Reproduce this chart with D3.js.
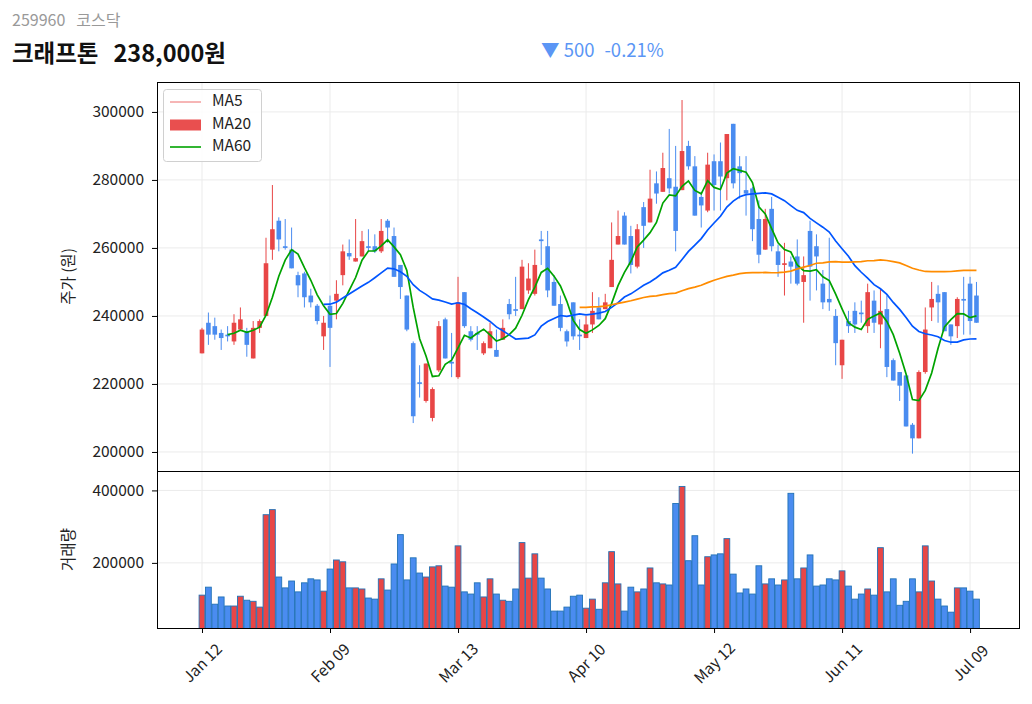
<!DOCTYPE html>
<html>
<head>
<meta charset="utf-8">
<script src="https://cdn.jsdelivr.net/npm/d3@7"></script>
<style>
  body { margin: 0; background: #fff; }
  text { font-family: "Noto Sans CJK KR", "Noto Sans", sans-serif; }
</style>
</head>
<body>
<svg id="chart" width="1032" height="704"></svg>
<script>
// daily OHLC (원), index 0 = Jan 12
const opens  = [229000,238000,237000,235000,234500,232500,236000,235500,227500,236500,
                240000,259500,268000,260500,259500,252000,252500,246000,243000,234000,
                243000,244500,252000,258500,256000,257500,260500,260500,259000,268000,
                263500,255000,246000,232000,220500,215000,210000,224000,239000,226500,
                222000,247000,235500,235000,229000,230500,230000,233000,243500,242000,
                242000,247500,246500,262500,260500,250000,243500,235500,244000,234500,
                233500,237500,242500,242000,248500,261000,269500,263500,254500,272000,
                267500,279000,276500,280500,278000,277000,290000,284000,275000,271000,
                285500,285500,280500,296500,284000,277000,277500,268500,259500,271500,
                259000,255000,256000,257500,250000,265000,260500,249500,245000,240000,
                225500,238500,241500,241000,237000,244500,237500,242000,227000,223500,
                222500,208000,204000,223500,242500,246500,247000,237500,237000,245000,
                249500,246000];
const highs  = [236500,241000,239500,236000,237000,240500,242500,236500,238500,239000,
                263000,278500,269000,268500,266000,253000,253000,248000,243500,240000,
                246000,250500,261000,262500,268500,265000,265500,264000,268500,268500,
                266000,255000,246000,232500,225500,226000,219000,238500,239500,235000,
                251500,247000,237000,237000,232500,238000,236000,239000,245000,251500,
                256500,255500,259500,265000,265000,252000,246000,236000,244000,239000,
                240000,247000,245500,246500,267500,271000,270500,266500,267000,273500,
                283000,282500,288000,295000,290000,303500,291500,287000,276500,288000,
                287500,291000,293500,296500,287000,287000,278000,274000,271500,275000,
                261000,261500,257500,262500,257500,268000,264000,253500,263000,242000,
                233000,241500,244000,244500,249500,247500,248000,246000,227500,223500,
                222500,208500,224000,242500,250000,249000,247000,237500,245500,251500,
                251500,250000];
const lows   = [229000,231500,233000,230000,232500,231500,236000,228000,227500,235000,
                240000,256500,259000,259500,254000,245500,242500,242500,237500,230000,
                225000,239000,249000,256500,256000,257500,259000,258500,258500,261500,
                251500,245000,235500,208500,216000,214500,209000,223500,227500,222000,
                221500,236500,232500,230000,228500,230500,228000,233000,239000,240000,
                242000,246500,246000,255000,245500,243000,235500,231000,233000,230000,
                233500,235000,239000,242000,248500,261000,261000,252500,254000,260000,
                267500,273000,276500,276000,259000,277000,283000,269500,266000,270500,
                271000,271000,274000,277500,274500,269500,262000,255500,259500,259000,
                251500,246000,249500,249000,238000,244500,247500,242000,241500,225500,
                221500,235000,235000,238000,235000,235000,230500,222000,221000,215000,
                207500,199500,204000,223000,238500,238000,235500,231500,233500,234500,
                234500,238000];
const closes = [236000,234500,234500,233500,234000,238000,239000,231500,236500,238500,
                255500,265500,262500,260000,254000,249000,245500,244000,238500,238000,
                236500,246500,259000,257500,257000,262000,260000,259000,265000,266000,
                251500,248500,236000,210500,220000,226000,218500,237000,227500,226000,
                244000,237000,233000,234500,232000,235500,228000,236500,240500,241500,
                254500,251000,255000,262000,247500,243000,236500,232500,234000,234000,
                237500,241500,239000,244000,256500,263500,261000,255000,265500,266500,
                274500,276000,283500,277500,265000,288500,284000,269500,272500,284500,
                278500,281000,293500,279000,282000,276000,265500,258000,268500,260500,
                255000,255500,254500,249500,252000,254500,257500,244000,244000,232000,
                233000,237000,237500,240500,247000,238000,241500,225000,221000,219500,
                207500,204000,223500,236000,245000,244000,235500,234000,245000,244500,
                238500,238000];
// daily volume (주)
const volumes = [111000,133000,86000,106000,81000,81000,108000,97000,94000,78000,
                 333000,347000,161000,131000,150000,120000,145000,156000,153000,122000,
                 183000,208000,203000,131000,131000,128000,103000,100000,156000,125000,
                 197000,278000,153000,214000,172000,161000,189000,192000,136000,133000,
                 247000,120000,114000,145000,106000,156000,114000,97000,94000,128000,
                 256000,158000,225000,158000,128000,67000,67000,78000,108000,111000,
                 75000,100000,72000,145000,231000,142000,67000,133000,120000,128000,
                 186000,145000,142000,139000,364000,411000,206000,275000,139000,217000,
                 222000,225000,267000,169000,117000,128000,114000,192000,142000,156000,
                 139000,153000,392000,156000,186000,222000,136000,139000,156000,153000,
                 178000,136000,100000,114000,128000,111000,242000,120000,156000,83000,
                 94000,156000,120000,247000,150000,100000,81000,64000,131000,131000,
                 122000,100000];

const tickIdx    = [0, 20, 40, 60, 80, 100, 120];
const tickLabels = ["Jan 12", "Feb 09", "Mar 13", "Apr 10", "May 12", "Jun 11", "Jul 09"];
const priceTicks = [200000, 220000, 240000, 260000, 280000, 300000];
const volTicks   = [200000, 400000];
const maPeriods  = [5, 20, 60];
const maColors   = ["#00a300", "#0055ff", "#ff8c00"];
const legendText = ["MA5", "MA20", "MA60"];

const UP = "#e84646", DOWN = "#4a8cf0";
const FONT = '"Noto Sans CJK KR", "Noto Sans", sans-serif';

const dims = {
  left: 157, right: 1020,
  priceTop: 82, priceBottom: 471,
  volTop: 471, volBottom: 628
};

const svg = d3.select("#chart");

function movingAvg(vals, n) {
  return vals.map((v, i) => i < n - 1 ? null : d3.mean(vals.slice(i - n + 1, i + 1)));
}

const x = d3.scaleLinear()
  .domain([-7.03, 127.8])
  .range([dims.left, dims.right]);

const y = d3.scaleLinear()
  .domain([194400, 308800])
  .range([dims.priceBottom, dims.priceTop]);

const yv = d3.scaleLinear()
  .domain([20300, 453600])
  .range([dims.volBottom, dims.volTop]);

const data = closes.map((c, i) => ({
  i: i, o: opens[i], h: highs[i], l: lows[i], c: c, v: volumes[i], up: c >= opens[i]
}));

// header: two words with a wide gap between them
function headerText(xPos, yPos, first, second, gap, size, color, weight) {
  const t = svg.append("text")
    .attr("x", xPos).attr("y", yPos)
    .attr("fill", color).attr("font-size", size)
    .attr("font-weight", weight || "normal");
  t.append("tspan").text(first);
  t.append("tspan").attr("dx", gap).text(second);
  return t;
}
headerText(12, 26, "259960", "코스닥", 11, 16, "#999");
headerText(12, 62, "크래프톤", "238,000원", 15, 23.5, "#111", "bold");
headerText(541, 57, "▼ 500", "-0.21%", 10, 18.5, "#5b96f5");

// grid
const grid = svg.append("g").attr("stroke", "#ebebeb").attr("stroke-width", 1);
grid.selectAll(".gy").data(priceTicks).enter().append("line")
  .attr("x1", dims.left).attr("x2", dims.right)
  .attr("y1", d => y(d)).attr("y2", d => y(d));
grid.selectAll(".gv").data(volTicks).enter().append("line")
  .attr("x1", dims.left).attr("x2", dims.right)
  .attr("y1", d => yv(d)).attr("y2", d => yv(d));
grid.selectAll(".gx").data(tickIdx).enter().append("line")
  .attr("x1", d => x(d)).attr("x2", d => x(d))
  .attr("y1", dims.priceTop).attr("y2", dims.volBottom);

// clip paths
const defs = svg.append("defs");
defs.append("clipPath").attr("id", "clipPrice").append("rect")
  .attr("x", dims.left).attr("y", dims.priceTop)
  .attr("width", dims.right - dims.left).attr("height", dims.priceBottom - dims.priceTop);
defs.append("clipPath").attr("id", "clipVol").append("rect")
  .attr("x", dims.left).attr("y", dims.volTop)
  .attr("width", dims.right - dims.left).attr("height", dims.volBottom - dims.volTop);

// candles
const candles = svg.append("g").attr("clip-path", "url(#clipPrice)")
  .selectAll("g").data(data).enter().append("g");

candles.append("line")
  .attr("x1", d => x(d.i)).attr("x2", d => x(d.i))
  .attr("y1", d => y(d.h)).attr("y2", d => y(d.l))
  .attr("stroke", d => d.up ? UP : DOWN)
  .attr("stroke-width", 1);

candles.append("rect")
  .attr("x", d => x(d.i) - 2.3)
  .attr("width", 4.6)
  .attr("y", d => y(Math.max(d.o, d.c)))
  .attr("height", d => Math.max(1, Math.abs(y(d.o) - y(d.c))))
  .attr("fill", d => d.up ? UP : DOWN);

// moving averages (MA5 green, MA20 blue, MA60 orange)
maPeriods.forEach((n, k) => {
  const ma = movingAvg(closes, n);
  const line = d3.line()
    .defined(d => d != null)
    .x((d, i) => x(i))
    .y(d => y(d));
  svg.append("path")
    .attr("clip-path", "url(#clipPrice)")
    .attr("d", line(ma))
    .attr("fill", "none")
    .attr("stroke", maColors[k])
    .attr("stroke-width", 1.7);
});

// volume bars
svg.append("g").attr("clip-path", "url(#clipVol)")
  .selectAll("rect").data(data).enter().append("rect")
  .attr("x", d => x(d.i) - 2.9)
  .attr("width", 5.8)
  .attr("y", d => yv(d.v))
  .attr("height", d => dims.volBottom - yv(d.v) + 2)
  .attr("fill", d => d.up ? UP : DOWN)
  .attr("stroke", "#2272b6")
  .attr("stroke-width", 0.9);

// frames
svg.append("rect")
  .attr("x", dims.left + 0.5).attr("y", dims.priceTop + 0.5)
  .attr("width", dims.right - dims.left - 1).attr("height", dims.priceBottom - dims.priceTop)
  .attr("fill", "none").attr("stroke", "#000").attr("stroke-width", 1);
svg.append("rect")
  .attr("x", dims.left + 0.5).attr("y", dims.volTop + 0.5)
  .attr("width", dims.right - dims.left - 1).attr("height", dims.volBottom - dims.volTop)
  .attr("fill", "none").attr("stroke", "#000").attr("stroke-width", 1);

// y axes
const axisFont = 15.5;
const yAxis = svg.append("g")
  .attr("transform", `translate(${dims.left},0)`)
  .call(d3.axisLeft(y).tickValues(priceTicks).tickSize(5).tickPadding(8).tickFormat(d3.format("d")));
const yvAxis = svg.append("g")
  .attr("transform", `translate(${dims.left},0)`)
  .call(d3.axisLeft(yv).tickValues(volTicks).tickSize(5).tickPadding(8).tickFormat(d3.format("d")));
[yAxis, yvAxis].forEach(g => {
  g.select(".domain").remove();
  g.selectAll("text").attr("font-size", axisFont).attr("fill", "#222")
    .style("font-family", FONT);
});

// x axis
const xAxis = svg.append("g")
  .attr("transform", `translate(0,${dims.volBottom})`)
  .call(d3.axisBottom(x).tickValues(tickIdx).tickSize(5).tickFormat((d, i) => tickLabels[i]));
xAxis.select(".domain").remove();
xAxis.selectAll("text")
  .attr("font-size", axisFont).attr("fill", "#222")
  .style("font-family", FONT)
  .attr("text-anchor", "middle")
  .attr("y", 0).attr("dy", "0.35em")
  .attr("transform", "translate(0,35) rotate(-45)");

// axis titles
svg.append("text")
  .attr("transform", `translate(74,${(dims.priceTop + dims.priceBottom) / 2}) rotate(-90)`)
  .attr("text-anchor", "middle").attr("font-size", 15.5).attr("fill", "#222")
  .text("주가 (원)");
svg.append("text")
  .attr("transform", `translate(74,${(dims.volTop + dims.volBottom) / 2}) rotate(-90)`)
  .attr("text-anchor", "middle").attr("font-size", 15.5).attr("fill", "#222")
  .text("거래량");

// legend (labels as in the original)
const legend = svg.append("g");
legend.append("rect")
  .attr("x", 163.5).attr("y", 89.5).attr("width", 98).attr("height", 72)
  .attr("rx", 3).attr("fill", "#fff").attr("fill-opacity", 0.85)
  .attr("stroke", "#d0d0d0");
const rowY = [102, 125, 147];
legend.append("line")
  .attr("x1", 170).attr("x2", 201).attr("y1", rowY[0]).attr("y2", rowY[0])
  .attr("stroke", UP).attr("stroke-width", 0.8);
legend.append("rect")
  .attr("x", 170).attr("y", rowY[1] - 5.5).attr("width", 31).attr("height", 11)
  .attr("fill", UP).attr("fill-opacity", 0.95);
legend.append("line")
  .attr("x1", 170).attr("x2", 201).attr("y1", rowY[2]).attr("y2", rowY[2])
  .attr("stroke", "#00a300").attr("stroke-width", 1.6);
legend.selectAll(".lt").data(legendText).enter().append("text")
  .attr("x", 212).attr("y", (d, i) => rowY[i])
  .attr("dominant-baseline", "middle")
  .attr("font-size", 15.5).attr("fill", "#222")
  .text(d => d);
</script>
</body>
</html>
